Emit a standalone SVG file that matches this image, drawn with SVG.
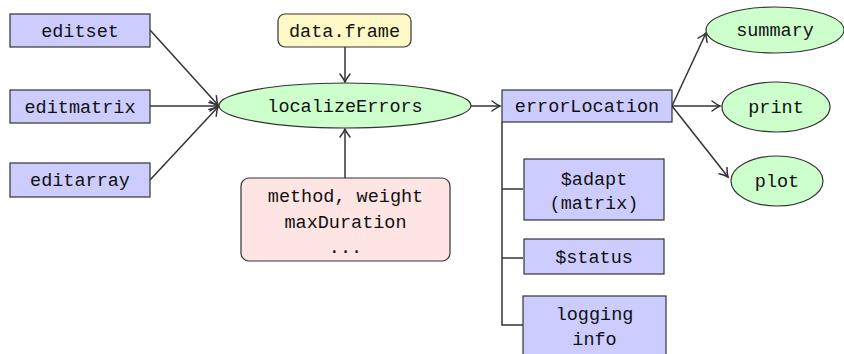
<svg xmlns="http://www.w3.org/2000/svg" width="844" height="354" viewBox="0 0 844 354">
  <defs>
    <marker id="arr" markerUnits="userSpaceOnUse" markerWidth="16" markerHeight="16" viewBox="-11 -8 13 16" refX="0" refY="0" orient="auto">
      <path d="M -8 -5 Q -3 -1.2 0 0 Q -3 1.2 -8 5" fill="none" stroke="#333" stroke-width="1.5" stroke-linecap="round"/>
    </marker>
    <style>
      text { font-family: "Liberation Mono", "DejaVu Sans Mono", monospace; font-size: 18.5px; fill: #111; text-anchor: middle; }
      .blue { fill: #ccccff; stroke: #333; stroke-width: 1.2; }
      .green { fill: #ccffcc; stroke: #333; stroke-width: 1.2; }
      .yellow { fill: #fff9c8; stroke: #333; stroke-width: 1.2; }
      .pink { fill: #ffe4e4; stroke: #333; stroke-width: 1.2; }
      .edge { fill: none; stroke: #333; stroke-width: 1.5; }
      .arrow { marker-end: url(#arr); }
    </style>
  </defs>

  <rect width="844" height="354" fill="#ffffff"/>

  <!-- connectors -->
  <g id="connectors">
    <path class="edge arrow" d="M 150 30 L 218 105"/>
    <path class="edge arrow" d="M 150 106 L 218 106"/>
    <path class="edge arrow" d="M 150 180 L 218 107"/>
    <path class="edge arrow" d="M 345 47 L 345 82"/>
    <path class="edge arrow" d="M 345 178 L 345 129"/>
    <path class="edge arrow" d="M 471 106 L 500 106"/>
    <path class="edge arrow" d="M 672 106 L 706 33"/>
    <path class="edge arrow" d="M 672 106 L 720 106"/>
    <path class="edge arrow" d="M 672 106 L 728 177"/>
    <path class="edge" d="M 502 122 L 502 325 L 523 325 M 502 189 L 523 189 M 502 258 L 523 258"/>
  </g>

  <!-- input objects -->
  <g id="editset">
    <rect class="blue" x="10" y="14" width="140" height="33"/>
    <text x="80" y="36.5">editset</text>
  </g>
  <g id="editmatrix">
    <rect class="blue" x="10" y="90" width="140" height="33"/>
    <text x="80" y="112.5">editmatrix</text>
  </g>
  <g id="editarray">
    <rect class="blue" x="10" y="163" width="140" height="34"/>
    <text x="80" y="186">editarray</text>
  </g>

  <!-- data source -->
  <g id="dataframe">
    <rect class="yellow" x="278" y="14" width="133" height="33" rx="7" ry="7"/>
    <text x="344.5" y="36.5">data.frame</text>
  </g>

  <!-- main function -->
  <g id="localizeErrors">
    <ellipse class="green" cx="345" cy="105.5" rx="126" ry="22.5"/>
    <text x="345" y="112">localizeErrors</text>
  </g>

  <!-- options -->
  <g id="options">
    <rect class="pink" x="241" y="178" width="209" height="83" rx="8" ry="8"/>
    <text x="345.5" y="201.5">method, weight</text>
    <text x="345.5" y="227.5">maxDuration</text>
    <text x="345.5" y="253">...</text>
  </g>

  <!-- result object -->
  <g id="errorLocation">
    <rect class="blue" x="502" y="90" width="170" height="32"/>
    <text x="587" y="112">errorLocation</text>
  </g>
  <g id="adapt">
    <rect class="blue" x="524" y="159" width="140" height="61"/>
    <text x="594" y="184.5">$adapt</text>
    <text x="594" y="209">(matrix)</text>
  </g>
  <g id="status">
    <rect class="blue" x="524" y="239" width="140" height="35"/>
    <text x="594" y="263">$status</text>
  </g>
  <g id="logging">
    <rect class="blue" x="523" y="296" width="143" height="62"/>
    <text x="594.5" y="319.5">logging</text>
    <text x="594.5" y="345">info</text>
  </g>

  <!-- methods -->
  <g id="summary">
    <ellipse class="green" cx="775" cy="30" rx="69" ry="23"/>
    <text x="775" y="36">summary</text>
  </g>
  <g id="print">
    <ellipse class="green" cx="776" cy="107" rx="54" ry="25"/>
    <text x="776" y="113">print</text>
  </g>
  <g id="plot">
    <ellipse class="green" cx="777" cy="181" rx="46" ry="25"/>
    <text x="777" y="187">plot</text>
  </g>
</svg>
